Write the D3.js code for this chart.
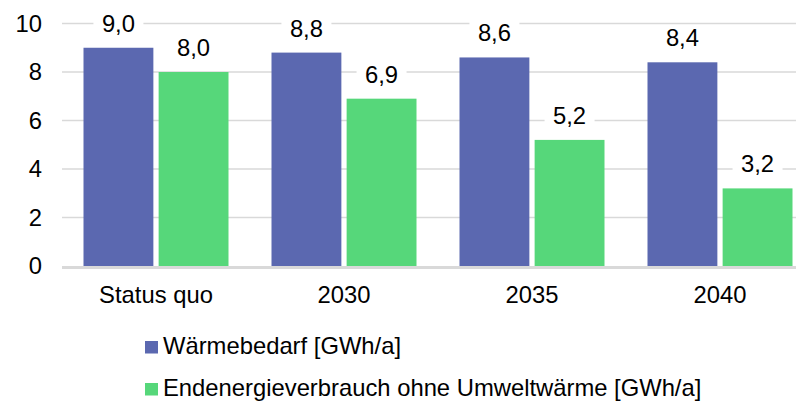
<!DOCTYPE html>
<html>
<head>
<meta charset="utf-8">
<script src="https://cdn.jsdelivr.net/npm/d3@7"></script>
<style>
  body { margin: 0; background: #fff; }
  svg { display: block; font-family: Arial, "Liberation Sans", sans-serif; }
</style>
</head>
<body>
<div id="chart"></div>
<script>
const categories = ["Status quo", "2030", "2035", "2040"];
const waermebedarf = [9.0, 8.8, 8.6, 8.4];
const endenergie = [8.0, 6.9, 5.2, 3.2];
const seriesNames = ["Wärmebedarf [GWh/a]", "Endenergieverbrauch ohne Umweltwärme [GWh/a]"];
const colors = ["#5b68b0", "#56d77a"];
const yTicks = [0, 2, 4, 6, 8, 10];

const width = 796, height = 401;
const fontSize = 23.8;

const svg = d3.select("#chart")
  .append("svg")
  .attr("width", width)
  .attr("height", height);

// plot area runs past the right edge, like the original export
const x0 = d3.scaleBand()
  .domain(categories)
  .range([62, 814])
  .paddingInner(0)
  .paddingOuter(0);

const x1 = d3.scaleBand()
  .domain([0, 1])
  .range([21.5, x0.bandwidth() - 21.5])
  .paddingInner(0.07);

const y = d3.scaleLinear()
  .domain([0, 10])
  .range([266, 23.5]);

// gridlines
svg.append("g")
  .selectAll("line")
  .data(yTicks.filter(d => d > 0))
  .join("line")
  .attr("x1", 62)
  .attr("x2", width)
  .attr("y1", d => y(d))
  .attr("y2", d => y(d))
  .style("stroke", "#d9d9d9")
  .style("stroke-width", 1.5);

// tick labels
svg.append("g")
  .selectAll("text")
  .data(yTicks)
  .join("text")
  .attr("x", 42)
  .attr("y", d => y(d) + 8)
  .attr("text-anchor", "end")
  .style("font-size", fontSize + "px")
  .text(d => d);

const data = categories.map((c, i) => ({ cat: c, vals: [waermebedarf[i], endenergie[i]] }));

const groups = svg.append("g")
  .selectAll("g")
  .data(data)
  .join("g")
  .attr("transform", d => "translate(" + x0(d.cat) + ",0)");

const bars = groups.selectAll("g")
  .data(d => d.vals.map((v, k) => ({ v: v, k: k })))
  .join("g");

bars.append("rect")
  .attr("x", d => x1(d.k))
  .attr("y", d => y(d.v))
  .attr("width", x1.bandwidth())
  .attr("height", d => y(0) - y(d.v))
  .style("fill", d => colors[d.k]);

const fmt = v => v.toFixed(1).replace(".", ",");

// value labels, with white box to cut the gridline
bars.append("rect")
  .attr("x", d => x1(d.k) + x1.bandwidth() / 2 - 25)
  .attr("y", d => y(d.v) - 36)
  .attr("width", 50)
  .attr("height", 24)
  .style("fill", "#fff");

bars.append("text")
  .attr("x", d => x1(d.k) + x1.bandwidth() / 2)
  .attr("y", d => y(d.v) - 16)
  .attr("text-anchor", "middle")
  .style("font-size", fontSize + "px")
  .text(d => fmt(d.v));

// x axis line
svg.append("line")
  .attr("x1", 62)
  .attr("x2", width)
  .attr("y1", y(0) + 1.5)
  .attr("y2", y(0) + 1.5)
  .style("stroke", "#d9d9d9")
  .style("stroke-width", 3);

svg.append("g")
  .selectAll("text")
  .data(categories)
  .join("text")
  .attr("x", d => x0(d) + x0.bandwidth() / 2)
  .attr("y", 303)
  .attr("text-anchor", "middle")
  .style("font-size", fontSize + "px")
  .text(d => d);

// legend
const legend = svg.append("g")
  .selectAll("g")
  .data(seriesNames)
  .join("g")
  .attr("transform", (d, i) => "translate(145," + (341 + i * 42) + ")");

legend.append("rect")
  .attr("width", 13)
  .attr("height", 12.5)
  .style("fill", (d, i) => colors[i]);

legend.append("text")
  .attr("x", 18)
  .attr("y", 12.5)
  .style("font-size", fontSize + "px")
  .text(d => d);
</script>
</body>
</html>
